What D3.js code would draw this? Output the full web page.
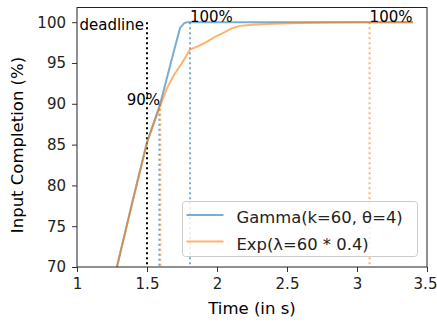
<!DOCTYPE html>
<html lang="en">
<head>
<meta charset="utf-8">
<script src="https://d3js.org/d3.v7.min.js"></script>
<style>
  body { margin: 0; background: #fff; }
  text { font-family: "DejaVu Sans", sans-serif; }
</style>
</head>
<body>
<div id="chart"></div>
<script>

// gamma(k=60, theta=4) completion curve
const gammaTime  = [1.285, 1.4, 1.5, 1.593, 1.688, 1.736, 1.765, 1.783, 1.807, 3.4];
const gammaValue = [70, 78.3, 85.3, 89.9, 96.2, 99.3, 99.85, 100, 100, 100];

// exp(lambda=60*0.4) completion curve
const expTime  = [1.285, 1.4, 1.5, 1.593, 1.64, 1.688, 1.75, 1.807, 1.866, 1.926, 1.986, 2.045, 2.105, 2.164, 2.25, 2.4, 2.59, 2.8, 3.0, 3.09, 3.4];
const expValue = [70, 78.2, 85.2, 89.7, 91.8, 93.4, 95.0, 96.65, 97.06, 97.6, 98.2, 98.7, 99.25, 99.55, 99.7, 99.8, 99.9, 99.95, 99.98, 100, 100];

const xTicks = [1, 1.5, 2, 2.5, 3, 3.5];
const yTicks = [70, 75, 80, 85, 90, 95, 100];

const deadline = 1.5;
const gamma90 = 1.588, exp90 = 1.595;
const gamma100 = 1.807, exp100 = 3.09;

const blue = "#1f77b4", orange = "#ff7f0e";

const margin = {top: 7.5, right: 10, bottom: 57, left: 77},
      width = 437 - margin.left - margin.right,
      height = 324 - margin.top - margin.bottom;

const svg = d3.select("#chart")
  .append("svg")
    .attr("width", 437)
    .attr("height", 324)
  .append("g")
    .attr("transform", `translate(${margin.left},${margin.top})`);

const x = d3.scaleLinear().domain([1, 3.5]).range([0, width]);
const y = d3.scaleLinear().domain([70, 101.8]).range([height, 0]);

// axes
const xAxis = svg.append("g")
  .attr("transform", `translate(0,${height})`)
  .call(d3.axisBottom(x).tickValues(xTicks).tickFormat(d3.format("~g")).tickSize(5).tickPadding(6));
const yAxis = svg.append("g")
  .call(d3.axisLeft(y).tickValues(yTicks).tickSize(5).tickPadding(6));
[xAxis, yAxis].forEach(a => {
  a.select(".domain").remove();
  a.selectAll("line").attr("stroke", "#333");
  a.selectAll("text").style("font-size", "15px").attr("fill", "#222")
    .style("font-family", "DejaVu Sans, sans-serif");
});
// last x label sits at the edge of the figure
xAxis.selectAll(".tick text").filter(d => d === 3.5).attr("dx", "-2");

// plot clip
svg.append("clipPath").attr("id", "clip")
  .append("rect").attr("width", width).attr("height", height);
const plot = svg.append("g").attr("clip-path", "url(#clip)");

// vertical markers
function vline(t, from, color) {
  plot.append("line")
    .attr("x1", x(t)).attr("x2", x(t))
    .attr("y1", y(from)).attr("y2", y(70))
    .attr("stroke", color)
    .attr("stroke-width", 2)
    .attr("stroke-opacity", color === "black" ? 1 : 0.6)
    .attr("stroke-dasharray", "2,3");
}
vline(deadline, 100, "black");
vline(gamma90, 90, blue);
vline(exp90, 90, orange);
vline(gamma100, 100, blue);
vline(exp100, 100, orange);

const line = d3.line().x(d => x(d[0])).y(d => y(d[1]));

plot.append("path")
  .datum(d3.zip(gammaTime, gammaValue))
  .attr("fill", "none")
  .attr("stroke", blue)
  .attr("stroke-opacity", 0.6)
  .attr("stroke-width", 2)
  .attr("d", line);

plot.append("path")
  .datum(d3.zip(expTime, expValue))
  .attr("fill", "none")
  .attr("stroke", orange)
  .attr("stroke-opacity", 0.6)
  .attr("stroke-width", 2)
  .attr("d", line);

// annotations
svg.append("text")
  .attr("x", x(deadline) - 3).attr("y", 30 - margin.top)
  .attr("text-anchor", "end")
  .style("font-size", "15px")
  .text("deadline");
svg.append("text")
  .attr("x", x(1.593)).attr("y", y(89.8))
  .attr("text-anchor", "end")
  .style("font-size", "15px")
  .text("90%");
svg.append("text")
  .attr("x", x(gamma100)).attr("y", y(100))
  .style("font-size", "15px")
  .text("100%");
svg.append("text")
  .attr("x", x(exp100)).attr("y", y(100))
  .style("font-size", "15px")
  .text("100%");

// frame
svg.append("rect")
  .attr("width", width).attr("height", height)
  .attr("fill", "none")
  .attr("stroke", "#222")
  .attr("stroke-width", 1);

// legend
const legend = svg.append("g").attr("transform", `translate(${182.5 - margin.left},${201.5 - margin.top})`);
legend.append("rect")
  .attr("width", 235).attr("height", 55)
  .attr("rx", 3)
  .attr("fill", "white").attr("fill-opacity", 0.8)
  .attr("stroke", "#ccc");
[["Gamma(k=60, θ=4)", blue], ["Exp(λ=60 * 0.4)", orange]].forEach((d, i) => {
  const ly = 13.5 + i * 26.5;
  legend.append("line")
    .attr("x1", 4).attr("x2", 41)
    .attr("y1", ly).attr("y2", ly)
    .attr("stroke", d[1]).attr("stroke-opacity", 0.6).attr("stroke-width", 2);
  legend.append("text")
    .attr("x", 54).attr("y", ly + 8)
    .style("font-size", "16.4px")
    .attr("fill", "#222")
    .text(d[0]);
});

// axis titles
svg.append("text")
  .attr("x", width / 2).attr("y", 314 - margin.top)
  .attr("text-anchor", "middle")
  .style("font-size", "16.5px")
  .text("Time (in s)");
svg.append("text")
  .attr("transform", `translate(${-54},${145 - margin.top}) rotate(-90)`)
  .attr("text-anchor", "middle")
  .style("font-size", "16.5px")
  .text("Input Completion (%)");

</script>
</body>
</html>
